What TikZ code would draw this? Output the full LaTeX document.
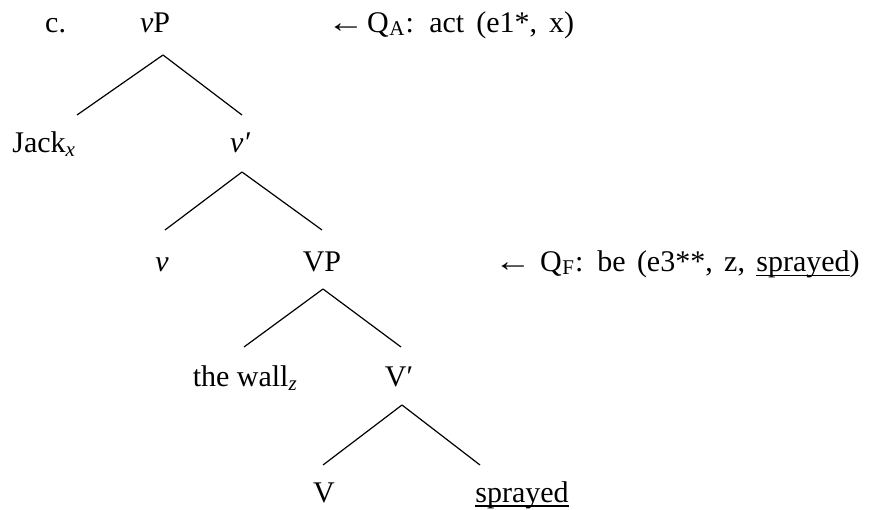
\documentclass[tikz,border=0pt]{standalone}
\usepackage{fontspec}
\usepackage{graphicx}
\setmainfont{Liberation Serif}
\usetikzlibrary{calc}
\newcommand\myul[1]{\setbox0\hbox{#1}\rlap{\rule[-4.5pt]{\wd0}{1.1pt}}\box0}
\newcommand\larr[1]{\makebox[#1][l]{\scalebox{1.25}[1]{←}}}
\newcommand\qsub[1]{\kern0.5pt\raisebox{-2.5pt}{\fontsize{21}{21}\selectfont #1}\kern1pt}
\begin{document}
\begin{tikzpicture}[x=1pt,y=-1pt,
  lbl/.style={anchor=base,inner sep=0pt,font=\fontsize{30}{36}\selectfont},
  edge/.style={line width=1.2pt}]
\useasboundingbox (0,0) rectangle (870,510);
% labels
\node[lbl,anchor=base west] (c) at (45,33) {c.};
\node[lbl] (vP) at (155,33) {\itshape v\upshape P};
\node[lbl] (jack) at (44,153) {Jack\textsubscript{\itshape x}};
\node[lbl] (vbar) at (240,153) {\itshape v′};
\node[lbl] (v) at (162,272) {\itshape v};
\node[lbl] (VP) at (322,272) {VP};
\node[lbl] (wall) at (245,387) {the wall\textsubscript{\itshape z}};
\node[lbl] (Vbar) at (399,387) {V′};
\node[lbl] (V) at (324,502) {V};
\node[lbl] (spr) at (522,502) {\myul{sprayed}};
% annotations
\node[lbl,anchor=base west] (qa) at (327,33) {\spaceskip=0.4em\larr{40pt}Q\qsub{A}:\kern1pt{} act (e1*, x)};
\node[lbl,anchor=base west] (qf) at (494,272) {\spaceskip=0.38em\larr{46pt}Q\qsub{F}: be (e3**, z, \myul{sprayed})};
% branches
\draw[edge] ($(vP.base)+(8,22)$) -- ($(jack.base)+(33,-38)$);
\draw[edge] ($(vP.base)+(8,22)$) -- ($(vbar.base)+(2,-38)$);
\draw[edge] ($(vbar.base)+(2,19)$) -- ($(v.base)+(3,-42)$);
\draw[edge] ($(vbar.base)+(2,19)$) -- ($(VP.base)+(0,-42)$);
\draw[edge] ($(VP.base)+(1,17)$) -- ($(wall.base)+(-1,-40)$);
\draw[edge] ($(VP.base)+(1,17)$) -- ($(Vbar.base)+(2,-40)$);
\draw[edge] ($(Vbar.base)+(3,18)$) -- ($(V.base)+(-1,-37)$);
\draw[edge] ($(Vbar.base)+(3,18)$) -- ($(spr.base)+(-42,-37)$);
\end{tikzpicture}
\end{document}
